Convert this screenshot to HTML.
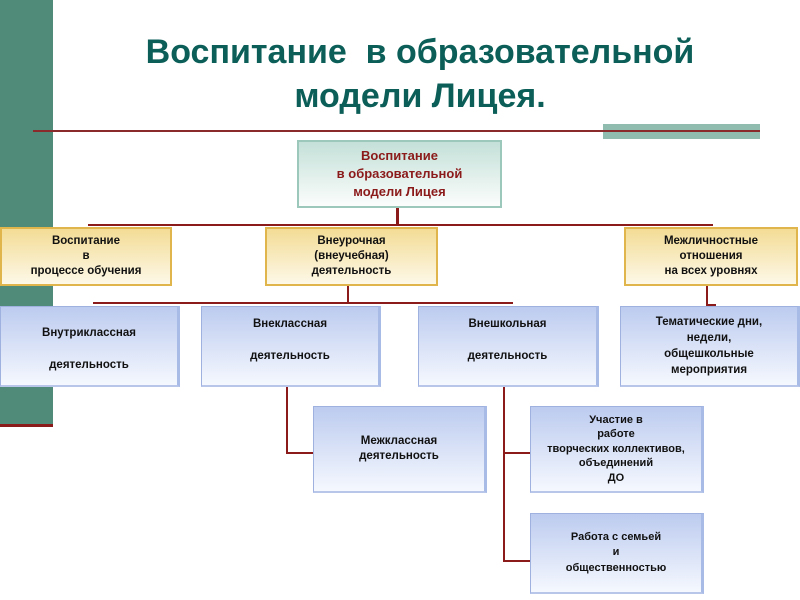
<!DOCTYPE html>
<html><head><meta charset="utf-8"><style>
body{margin:0;width:800px;height:600px;background:#fff;position:relative;overflow:hidden;font-family:"Liberation Sans","DejaVu Sans",sans-serif;}
.a{position:absolute;}
.bar{left:0;top:0;width:53px;height:424px;background:#4f8b78;}
.t{left:90px;width:660px;text-align:center;color:#0b5f58;font-weight:bold;font-size:34px;line-height:44px;top:30px;}
.box{position:absolute;box-sizing:border-box;display:flex;align-items:center;justify-content:center;text-align:center;font-weight:bold;font-size:11.5px;line-height:15px;color:#111;}
.g{background:linear-gradient(#c4e0d8,#fbfdfc);border:2px solid #9cc7bb;color:#8b1a1a;font-size:13px;line-height:18px;}
.y{background:linear-gradient(#f3dc95,#fdf8e8);border:2px solid #e0b54c;}
.b{background:linear-gradient(#bccbef,#f5f8fe);border:1px solid #9eb1df;border-right:3px solid #a8bae6;border-bottom:2px solid #b8c6ea;}
.l{position:absolute;background:#8b1a1a;}
</style></head><body>
<div class="a bar"></div>
<div class="l" style="left:0;top:424px;width:53px;height:3px;background:#8b1a1a"></div>
<div class="a t">Воспитание&nbsp; в образовательной<br>модели Лицея.</div>
<div class="a" style="left:603px;top:124px;width:157px;height:15px;background:#8fbcae"></div>
<div class="l" style="left:33px;top:130px;width:727px;height:2px;background:#8b2a2a"></div>

<div class="box g" style="left:297px;top:140px;width:205px;height:68px">Воспитание<br>в образовательной<br>модели Лицея</div>
<div class="l" style="left:396px;top:208px;width:3px;height:18px"></div>
<div class="l" style="left:88px;top:224px;width:625px;height:2px"></div>

<div class="box y" style="left:0;top:227px;width:172px;height:59px">Воспитание<br>в<br>процессе обучения</div>
<div class="box y" style="left:265px;top:227px;width:173px;height:59px">Внеурочная<br>(внеучебная)<br>деятельность</div>
<div class="box y" style="left:624px;top:227px;width:174px;height:59px">Межличностные<br>отношения<br>на всех уровнях</div>

<div class="l" style="left:347px;top:286px;width:2px;height:17px"></div>
<div class="l" style="left:93px;top:302px;width:420px;height:2px"></div>
<div class="l" style="left:706px;top:286px;width:2px;height:19px"></div>
<div class="l" style="left:706px;top:304px;width:10px;height:2px"></div>

<div class="box b" style="left:0;top:306px;width:180px;height:81px;line-height:16px;padding-top:6px">Внутриклассная<br><br>деятельность</div>
<div class="box b" style="left:201px;top:306px;width:180px;height:81px;padding-bottom:12px;line-height:16px">Внеклассная<br><br>деятельность</div>
<div class="box b" style="left:418px;top:306px;width:181px;height:81px;padding-bottom:12px;line-height:16px">Внешкольная<br><br>деятельность</div>
<div class="box b" style="left:620px;top:306px;width:180px;height:81px;line-height:16px">Тематические дни,<br>недели,<br>общешкольные<br>мероприятия</div>

<div class="l" style="left:286px;top:387px;width:2px;height:67px"></div>
<div class="l" style="left:286px;top:452px;width:28px;height:2px"></div>
<div class="box b" style="left:313px;top:406px;width:174px;height:87px">Межклассная<br>деятельность</div>

<div class="l" style="left:503px;top:387px;width:2px;height:175px"></div>
<div class="l" style="left:503px;top:452px;width:28px;height:2px"></div>
<div class="l" style="left:503px;top:560px;width:28px;height:2px"></div>
<div class="box b" style="left:530px;top:406px;width:174px;height:87px;font-size:11px;line-height:14.5px">Участие в<br>работе<br>творческих коллективов,<br>объединений<br>ДО</div>
<div class="box b" style="left:530px;top:513px;width:174px;height:81px;font-size:11px;line-height:15.5px">Работа с семьей<br>и<br>общественностью</div>
</body></html>
